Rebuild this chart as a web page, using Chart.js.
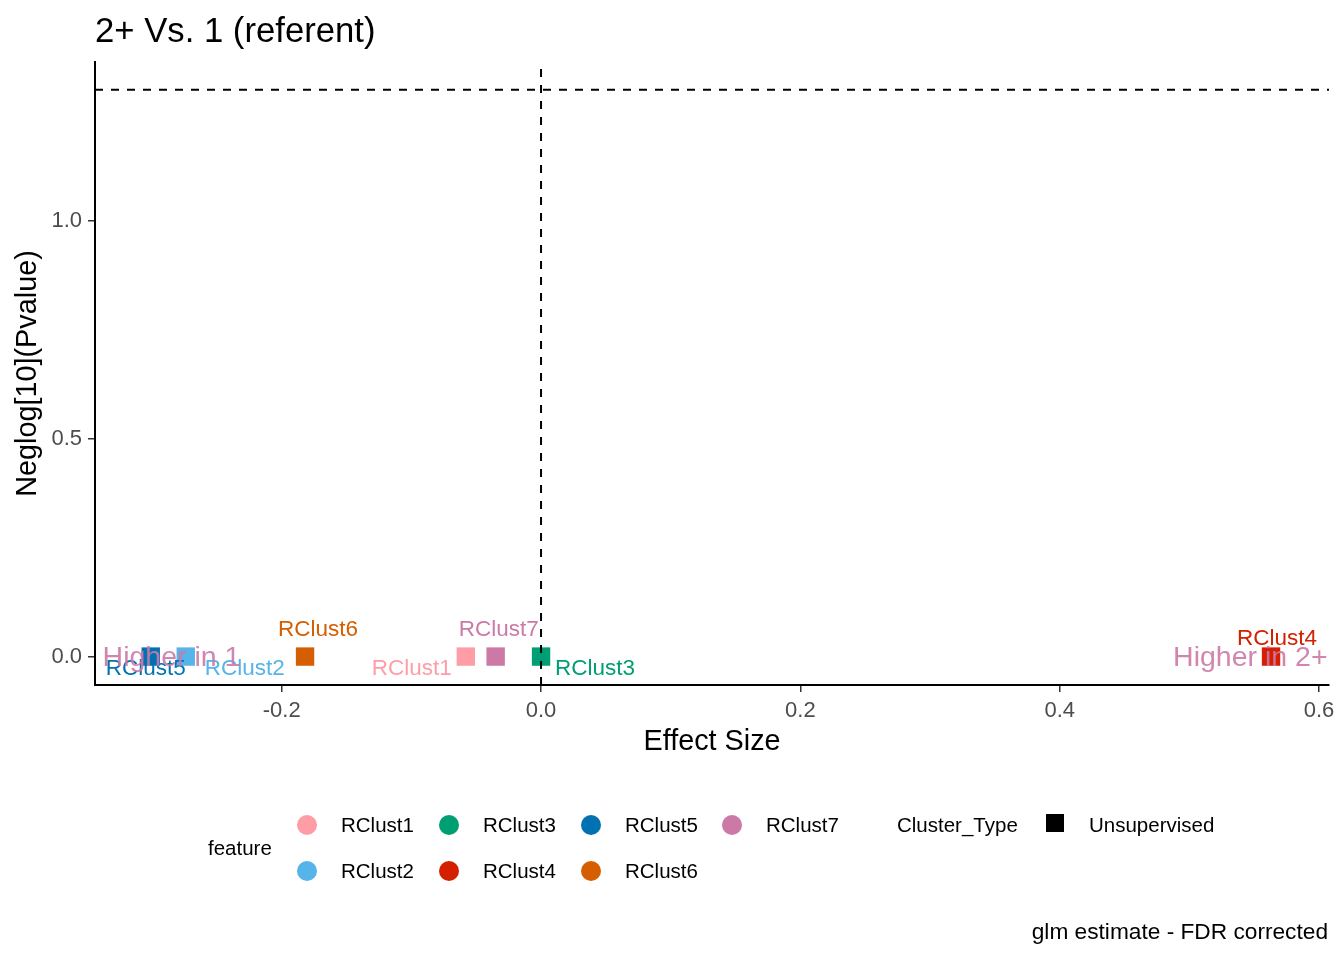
<!DOCTYPE html>
<html>
<head>
<meta charset="utf-8">
<script src="https://cdn.jsdelivr.net/npm/chart.js@4.4.1/dist/chart.umd.min.js"></script>
<style>
  body { margin: 0; background: #fff; }
  canvas { display: block; }
</style>
</head>
<body>
<canvas id="volcanoChart" width="1344" height="960"></canvas>
<script>
const features = ['RClust1', 'RClust2', 'RClust3', 'RClust4', 'RClust5', 'RClust6', 'RClust7'];
const effectSize = [-0.058, -0.274, 0.0, 0.563, -0.301, -0.182, -0.035];
const negLogP = [0.001, 0.001, 0.001, 0.001, 0.001, 0.001, 0.001];
const featureColors = ['#FF9DA7', '#56B4E9', '#009E73', '#D41F00', '#0072B2', '#D55E00', '#CC79A7'];
const xTicks = [-0.2, 0.0, 0.2, 0.4, 0.6];
const yTicks = [0.0, 0.5, 1.0];
const sigLevel = 1.301;
const sideLabels = ['Higher in 1', 'Higher in 2+'];
const sideLabelX = [-0.285, 0.547];

// pixel nudges for the repelled point labels (dx, dy)
const labelNudge = [[-54, 12], [59, 12], [54, 12], [6, -18], [-5, 12], [13, -27], [3, -27]];

const X_MIN = -0.344, X_MAX = 0.6077;
const Y_MIN = -0.0642, Y_MAX = 1.3647;
const FONT = '"Liberation Sans", Arial, sans-serif';

const datasets = [
    {
        type: 'line',
        data: [{ x: X_MIN, y: sigLevel }, { x: X_MAX, y: sigLevel }],
        borderColor: '#000',
        borderWidth: 2,
        borderDash: [8, 8],
        pointRadius: 0,
        order: 0
    },
    {
        type: 'line',
        data: [{ x: 0, y: Y_MIN }, { x: 0, y: Y_MAX }],
        borderColor: '#000',
        borderWidth: 2,
        borderDash: [8, 8],
        pointRadius: 0,
        order: 0
    }
];
features.forEach(function (f, i) {
    datasets.push({
        label: f,
        data: [{ x: effectSize[i], y: negLogP[i] }],
        pointStyle: 'rect',
        pointRadius: 13,
        backgroundColor: featureColors[i],
        borderWidth: 0,
        order: 1
    });
});

const textPlugin = {
    id: 'textPlugin',
    afterDatasetsDraw: function (chart) {
        const c = chart.ctx;
        const xs = chart.scales.x, ys = chart.scales.y;
        c.save();
        c.textAlign = 'center';
        c.textBaseline = 'middle';
        c.font = '22.5px ' + FONT;
        features.forEach(function (f, i) {
            const px = xs.getPixelForValue(effectSize[i]);
            const py = ys.getPixelForValue(negLogP[i]);
            c.fillStyle = featureColors[i];
            c.fillText(f, px + labelNudge[i][0], py + labelNudge[i][1]);
        });
        c.font = '28.5px ' + FONT;
        c.fillStyle = 'rgba(204, 121, 167, 0.9)';
        sideLabels.forEach(function (t, i) {
            c.fillText(t, xs.getPixelForValue(sideLabelX[i]), ys.getPixelForValue(0) + 1);
        });
        c.restore();
    },
    afterDraw: function (chart) {
        const c = chart.ctx;
        const a = chart.chartArea;
        c.save();
        c.fillStyle = '#000';
        // title
        c.textAlign = 'left';
        c.textBaseline = 'alphabetic';
        c.font = '34.7px ' + FONT;
        c.fillText('2+ Vs. 1 (referent)', a.left, 42);
        // axis titles
        c.textAlign = 'center';
        c.textBaseline = 'middle';
        c.font = '28.8px ' + FONT;
        c.fillText('Effect Size', (a.left + a.right) / 2, 742);
        c.save();
        c.translate(28, (a.top + a.bottom) / 2);
        c.rotate(-Math.PI / 2);
        c.fillText('Neglog[10](Pvalue)', 0, 0);
        c.restore();
        // caption
        c.textAlign = 'right';
        c.font = '22.7px ' + FONT;
        c.fillText('glm estimate - FDR corrected', 1328, 933);

        // legend
        c.textAlign = 'left';
        c.font = '20.5px ' + FONT;
        c.fillText('feature', 208, 849);
        const colX = [307, 449, 591, 732];
        const rowY = [825, 871];
        features.forEach(function (f, i) {
            const cx = colX[Math.floor(i / 2)];
            const cy = rowY[i % 2];
            c.fillStyle = featureColors[i];
            c.beginPath();
            c.arc(cx, cy, 10, 0, Math.PI * 2);
            c.fill();
            c.fillStyle = '#000';
            c.fillText(f, cx + 34, cy + 1);
        });
        c.fillText('Cluster_Type', 897, 826);
        c.fillRect(1046, 814, 18, 18);
        c.fillText('Unsupervised', 1089, 826);
        c.restore();
    }
};

const ctx = document.getElementById('volcanoChart');
new Chart(ctx, {
    type: 'scatter',
    data: { datasets: datasets },
    options: {
        responsive: false,
        animation: false,
        devicePixelRatio: 1,
        events: [],
        layout: {
            padding: { left: 0, right: 15, top: 62, bottom: 215 }
        },
        plugins: {
            legend: { display: false },
            tooltip: { enabled: false }
        },
        scales: {
            x: {
                type: 'linear',
                min: X_MIN,
                max: X_MAX,
                afterBuildTicks: function (s) { s.ticks = xTicks.map(function (v) { return { value: v }; }); },
                afterFit: function (s) { s.height = 60; },
                grid: { drawOnChartArea: false, drawTicks: true, tickLength: 7, color: '#333', lineWidth: 1.5 },
                border: { display: true, color: '#000', width: 2 },
                ticks: {
                    color: '#4D4D4D',
                    font: { size: 22, family: FONT },
                    padding: 6,
                    maxRotation: 0,
                    callback: function (v) { return v.toFixed(1); }
                }
            },
            y: {
                type: 'linear',
                min: Y_MIN,
                max: Y_MAX,
                afterBuildTicks: function (s) { s.ticks = yTicks.map(function (v) { return { value: v }; }); },
                afterFit: function (s) { s.width = 95; },
                grid: { drawOnChartArea: false, drawTicks: true, tickLength: 7, color: '#333', lineWidth: 1.5 },
                border: { display: true, color: '#000', width: 2 },
                ticks: {
                    color: '#4D4D4D',
                    font: { size: 22, family: FONT },
                    padding: 6,
                    callback: function (v) { return v.toFixed(1); }
                }
            }
        }
    },
    plugins: [textPlugin]
});
</script>
</body>
</html>
